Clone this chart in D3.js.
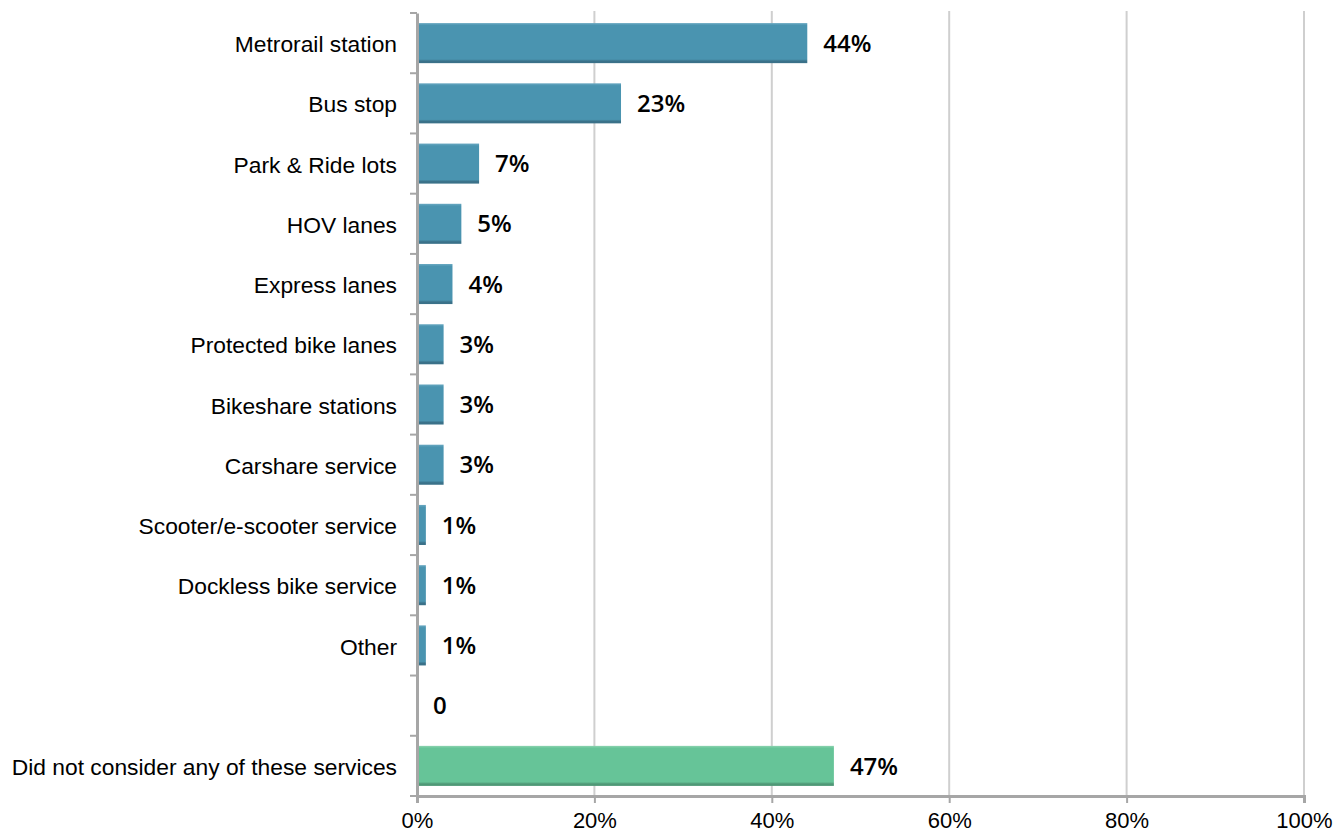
<!DOCTYPE html>
<html>
<head>
<meta charset="utf-8">
<script src="https://cdn.jsdelivr.net/npm/d3@7"></script>
<style>
  html, body { margin: 0; padding: 0; background: #fff; }
  svg { display: block; }
</style>
</head>
<body>
<svg id="chart" width="1342" height="835"></svg>
<script>
// Services considered (share of respondents)
const categories = [
  "Metrorail station", "Bus stop", "Park & Ride lots", "HOV lanes", "Express lanes",
  "Protected bike lanes", "Bikeshare stations", "Carshare service",
  "Scooter/e-scooter service", "Dockless bike service", "Other", "",
  "Did not consider any of these services"
];
const values = [44, 23, 7, 5, 4, 3, 3, 3, 1, 1, 1, 0, 47];
const valueLabels = ["44%", "23%", "7%", "5%", "4%", "3%", "3%", "3%", "1%", "1%", "1%", "0", "47%"];
const xTicks = [0, 20, 40, 60, 80, 100];

const svg = d3.select("#chart");
const margin = { top: 13, right: 38, bottom: 39, left: 417 };
const W = 1342, H = 835;

const x = d3.scaleLinear().domain([0, 100]).range([margin.left, W - margin.right]);
const y = d3.scaleBand().domain(d3.range(categories.length))
  .range([margin.top, H - margin.bottom]).paddingInner(0.335).paddingOuter(0.1675);

const defs = svg.append("defs");
function grad(id, top, mid, bot) {
  const g = defs.append("linearGradient").attr("id", id).attr("x1", 0).attr("y1", 0).attr("x2", 0).attr("y2", 1);
  g.append("stop").attr("offset", "0%").attr("stop-color", top);
  g.append("stop").attr("offset", "6%").attr("stop-color", mid);
  g.append("stop").attr("offset", "90%").attr("stop-color", mid);
  g.append("stop").attr("offset", "95%").attr("stop-color", bot);
  g.append("stop").attr("offset", "100%").attr("stop-color", bot);
}
grad("blueFill", "#6aa9c2", "#4a94b0", "#3a7189");
grad("greenFill", "#8dd3b0", "#66c498", "#4f9876");

// vertical gridlines
svg.append("g").selectAll("line").data(xTicks.filter(d => d > 0)).join("line")
  .attr("x1", d => x(d)).attr("x2", d => x(d))
  .attr("y1", margin.top - 2).attr("y2", H - margin.bottom)
  .attr("stroke", "#cfcfcf").attr("stroke-width", 2);

// bars
svg.append("g").selectAll("rect").data(values).join("rect")
  .attr("x", x(0))
  .attr("y", (d, i) => y(i))
  .attr("width", d => x(d) - x(0))
  .attr("height", y.bandwidth())
  .attr("fill", (d, i) => i === values.length - 1 ? "url(#greenFill)" : "url(#blueFill)");

// value labels
svg.append("g").selectAll("text").data(values).join("text")
  .attr("x", d => x(d) + 16)
  .attr("y", (d, i) => y(i) + y.bandwidth() / 2)
  .attr("dy", "0.36em")
  .attr("font-family", "'Open Sans', sans-serif")
  .attr("font-weight", 600)
  .attr("font-size", 24)
  .attr("fill", "#000")
  .text((d, i) => valueLabels[i]);

// left axis
const yAxis = d3.axisLeft(y).tickSize(0).tickFormat(i => categories[i]).tickPadding(20);
const gy = svg.append("g").attr("transform", `translate(${x(0)},0)`).call(yAxis);
gy.select(".domain").attr("stroke", "#a6a6a6").attr("stroke-width", 3);
gy.selectAll("text").attr("font-family", "'Liberation Sans', Arial, sans-serif").attr("font-size", 22.8)
  .attr("fill", "#000").attr("dy", "0.4em");
// category boundary ticks
const bounds = d3.range(categories.length + 1).map(i => margin.top + i * y.step());
svg.append("g").selectAll("line").data(bounds).join("line")
  .attr("x1", x(0) - 7).attr("x2", x(0))
  .attr("y1", d => d).attr("y2", d => d)
  .attr("stroke", "#a6a6a6").attr("stroke-width", 2);

// bottom axis
const xAxis = d3.axisBottom(x).tickValues(xTicks).tickFormat(d => d + "%").tickSize(7).tickPadding(9);
const gx = svg.append("g").attr("transform", `translate(0,${H - margin.bottom})`).call(xAxis);
gx.select(".domain").attr("stroke", "#a6a6a6").attr("stroke-width", 3);
gx.selectAll(".tick line").attr("stroke", "#a6a6a6").attr("stroke-width", 2);
gx.selectAll("text").attr("font-family", "'Liberation Sans', Arial, sans-serif").attr("font-size", 22).attr("fill", "#000");
</script>
</body>
</html>
